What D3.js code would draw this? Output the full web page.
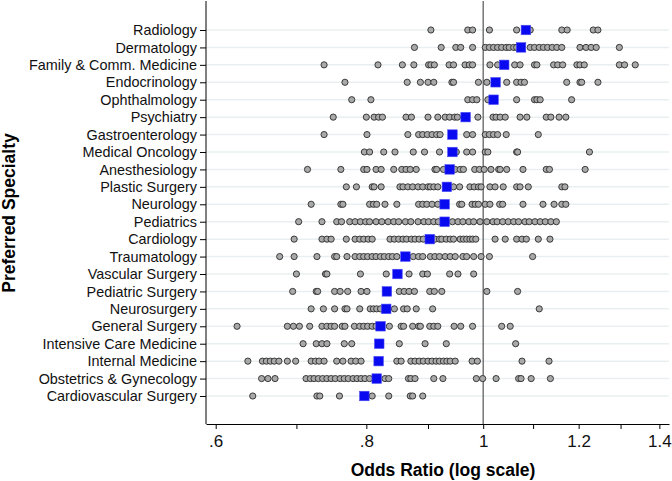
<!DOCTYPE html>
<html>
<head>
<meta charset="utf-8">
<script src="https://cdn.jsdelivr.net/npm/d3@7"></script>
<style>
  body { margin: 0; background: #fff; }
  svg { display: block; font-family: "Liberation Sans", Arial, sans-serif; }
  .axis path, .axis line { stroke: #000; }
</style>
</head>
<body>
<script>
(function () {

// specialties, top to bottom
var specialties = ["Radiology", "Dermatology", "Family & Comm. Medicine", "Endocrinology",
  "Ophthalmology", "Psychiatry", "Gastroenterology", "Medical Oncology", "Anesthesiology",
  "Plastic Surgery", "Neurology", "Pediatrics", "Cardiology", "Traumatology",
  "Vascular Surgery", "Pediatric Surgery", "Neurosurgery", "General Surgery",
  "Intensive Care Medicine", "Internal Medicine", "Obstetrics & Gynecology",
  "Cardiovascular Surgery"];

// mean odds ratio per specialty (blue squares)
var means = [1.085, 1.075, 1.041, 1.024, 1.020, 0.967, 0.943, 0.943, 0.938, 0.933, 0.929,
  0.929, 0.903, 0.862, 0.849, 0.832, 0.831, 0.822, 0.820, 0.819, 0.816, 0.797];

// individual odds ratios (grey circles)
var radiology = [0.905, 0.971, 0.980, 1.012, 1.066, 1.094, 1.162, 1.174, 1.234, 1.245];
var dermatology = [0.877, 0.923, 0.949, 0.958, 0.980, 1.004, 1.012, 1.020, 1.028, 1.036, 1.045,
  1.051, 1.060, 1.066, 1.094, 1.103, 1.113, 1.122, 1.131, 1.141, 1.151, 1.162, 1.203, 1.217,
  1.229, 1.241, 1.297];
var familyMed = [0.738, 0.818, 0.857, 0.876, 0.901, 0.905, 0.911, 0.937, 0.945, 0.966, 0.974,
  0.980, 1.013, 1.028, 1.062, 1.073, 1.103, 1.108, 1.144, 1.153, 1.164, 1.196, 1.203, 1.213,
  1.297, 1.310, 1.337];
var endocrinology = [0.768, 0.865, 0.887, 0.900, 0.910, 0.942, 0.945, 0.991, 1.007, 1.046,
  1.066, 1.075, 1.082, 1.173, 1.203, 1.207, 1.245];
var ophthalmology = [0.778, 0.807, 0.971, 0.980, 0.988, 1.009, 1.066, 1.103, 1.108, 1.115, 1.184];
var psychiatry = [0.751, 0.800, 0.812, 0.819, 0.825, 0.863, 0.872, 0.900, 0.917, 0.930, 0.938,
  0.947, 0.952, 0.990, 1.019, 1.025, 1.033, 1.043, 1.073, 1.087, 1.128, 1.138, 1.156, 1.171];
var gastro = [0.738, 0.801, 0.866, 0.884, 0.891, 0.899, 0.907, 0.915, 0.921, 0.969, 0.980,
  1.004, 1.012, 1.020, 1.028, 1.045, 1.111];
var oncology = [0.797, 0.805, 0.827, 0.845, 0.875, 0.894, 0.920, 0.950, 0.969, 0.980, 1.004,
  1.009, 1.066, 1.068, 1.225];
var anesthesiology = [0.715, 0.762, 0.796, 0.801, 0.815, 0.823, 0.843, 0.856, 0.863, 0.870,
  0.880, 0.912, 0.915, 0.927, 0.948, 0.957, 0.963, 0.984, 0.993, 1.002, 1.015, 1.030, 1.033,
  1.046, 1.079, 1.128, 1.135, 1.215];
var plastic = [0.770, 0.785, 0.809, 0.812, 0.823, 0.853, 0.858, 0.866, 0.874, 0.883, 0.891,
  0.900, 0.904, 0.910, 0.917, 0.945, 0.956, 0.975, 0.983, 0.991, 0.996, 1.013, 1.023, 1.039,
  1.066, 1.073, 1.090, 1.162, 1.169];
var neurology = [0.720, 0.762, 0.765, 0.805, 0.811, 0.816, 0.829, 0.848, 0.884, 0.891, 0.898,
  0.907, 0.917, 0.956, 0.960, 0.979, 0.985, 0.991, 1.004, 1.013, 1.032, 1.038, 1.079, 1.121,
  1.145, 1.162, 1.171];
var pediatrics = [0.703, 0.735, 0.756, 0.763, 0.775, 0.783, 0.791, 0.799, 0.805, 0.815, 0.824,
  0.834, 0.843, 0.851, 0.862, 0.871, 0.883, 0.893, 0.901, 0.910, 0.918, 0.928, 0.943, 0.953,
  0.962, 0.973, 0.982, 0.994, 1.007, 1.019, 1.027, 1.038, 1.049, 1.060, 1.070, 1.083, 1.092,
  1.104, 1.115, 1.126, 1.138, 1.150];
var cardiology = [0.697, 0.735, 0.742, 0.748, 0.770, 0.783, 0.790, 0.796, 0.803, 0.809, 0.837,
  0.844, 0.851, 0.858, 0.864, 0.872, 0.878, 0.885, 0.892, 0.912, 0.920, 0.924, 0.932, 0.939,
  0.945, 0.957, 0.963, 0.969, 0.975, 0.980, 0.986, 1.023, 1.043, 1.066, 1.077, 1.086, 1.111,
  1.136];
var traumatology = [0.678, 0.697, 0.728, 0.753, 0.756, 0.771, 0.783, 0.790, 0.796, 0.802,
  0.809, 0.815, 0.822, 0.828, 0.835, 0.841, 0.848, 0.875, 0.884, 0.891, 0.904, 0.912, 0.920,
  0.930, 0.939, 0.948, 0.962, 0.969, 0.982, 0.996, 1.012, 1.099];
var vascular = [0.700, 0.740, 0.742, 0.791, 0.831, 0.868, 0.891, 0.899, 0.938, 0.953, 0.982];
var pedSurgery = [0.695, 0.727, 0.729, 0.753, 0.761, 0.772, 0.792, 0.801, 0.852, 0.860, 0.868,
  0.877, 0.903, 0.911, 0.924, 1.007, 1.068];
var neurosurgery = [0.720, 0.737, 0.753, 0.768, 0.771, 0.790, 0.806, 0.811, 0.816, 0.822,
  0.844, 0.859, 0.865, 0.880, 0.908, 1.113];
var genSurgery = [0.625, 0.688, 0.696, 0.704, 0.718, 0.735, 0.742, 0.748, 0.753, 0.764, 0.768,
  0.782, 0.790, 0.796, 0.802, 0.809, 0.815, 0.836, 0.855, 0.859, 0.874, 0.884, 0.887, 0.903,
  0.910, 0.917, 0.946, 0.958, 0.980, 1.036, 1.053];
var icu = [0.709, 0.727, 0.735, 0.742, 0.767, 0.778, 0.852, 0.895, 0.932, 1.064];
var internal = [0.638, 0.656, 0.661, 0.666, 0.671, 0.677, 0.688, 0.699, 0.720, 0.726, 0.731,
  0.738, 0.756, 0.765, 0.777, 0.784, 0.792, 0.848, 0.855, 0.871, 0.878, 0.885, 0.892, 0.900,
  0.907, 0.914, 0.920, 0.927, 0.933, 0.939, 0.948, 0.979, 0.989, 1.077, 1.134];
var obgyn = [0.655, 0.663, 0.672, 0.713, 0.719, 0.724, 0.730, 0.736, 0.742, 0.748, 0.754,
  0.761, 0.767, 0.773, 0.780, 0.786, 0.792, 0.798, 0.805, 0.829, 0.835, 0.867, 0.871, 0.878,
  0.910, 0.926, 0.987, 0.999, 1.025, 1.070, 1.075, 1.096, 1.137];
var cvSurgery = [0.644, 0.728, 0.732, 0.760, 0.809, 0.835, 0.870, 0.874, 0.891];

var pointSets = [radiology, dermatology, familyMed, endocrinology, ophthalmology, psychiatry,
  gastro, oncology, anesthesiology, plastic, neurology, pediatrics, cardiology, traumatology,
  vascular, pedSurgery, neurosurgery, genSurgery, icu, internal, obgyn, cvSurgery];

var xTicks = [0.6, 0.7, 0.8, 0.9, 1, 1.1, 1.2, 1.3, 1.4];
var xTickLabels = {0.6: ".6", 0.8: ".8", 1: "1", 1.2: "1.2", 1.4: "1.4"};

var width = 672,
    height = 481,
    left = 206,
    right = 669,
    top = 1,
    bottom = 424;

var x = d3.scaleLog()
    .domain([0.589, 1.426])
    .range([left, right]);

var y = d3.scalePoint()
    .domain(specialties)
    .range([30, 396]);

var svg = d3.select("body").append("svg")
    .attr("width", width)
    .attr("height", height);

// light horizontal grid lines
svg.append("g")
    .selectAll("line")
    .data(specialties)
    .enter().append("line")
    .attr("x1", left)
    .attr("x2", right)
    .attr("y1", function (d) { return y(d); })
    .attr("y2", function (d) { return y(d); })
    .attr("stroke", "#e9eff1")
    .attr("stroke-width", 1.5);

// reference line at OR = 1
svg.append("line")
    .attr("x1", x(1)).attr("x2", x(1))
    .attr("y1", top).attr("y2", bottom)
    .attr("stroke", "#555")
    .attr("stroke-width", 1.2);

// individual points
var points = [];
pointSets.forEach(function (set, i) {
    set.forEach(function (v) { points.push({ s: specialties[i], v: v }); });
});

svg.append("g")
    .selectAll("circle")
    .data(points)
    .enter().append("circle")
    .attr("cx", function (d) { return x(d.v); })
    .attr("cy", function (d) { return y(d.s); })
    .attr("r", 3.1)
    .attr("fill", "#a9a9a9")
    .attr("stroke", "#2b2b2b")
    .attr("stroke-width", 0.9);

// means
var sq = 9.5;
svg.append("g")
    .selectAll("rect")
    .data(specialties)
    .enter().append("rect")
    .attr("x", function (d, i) { return x(means[i]) - sq / 2; })
    .attr("y", function (d) { return y(d) - sq / 2; })
    .attr("width", sq)
    .attr("height", sq)
    .attr("fill", "#0a0af0")
    .attr("stroke", "#4a4af5")
    .attr("stroke-width", 0.6);

// axes
var yAxis = d3.axisLeft(y).tickSize(6).tickPadding(3).tickSizeOuter(0);
var gy = svg.append("g")
    .attr("class", "axis")
    .attr("transform", "translate(" + left + ",0)")
    .call(yAxis);
gy.select(".domain").attr("d", "M0," + top + "V" + bottom);
gy.selectAll("text")
    .attr("font-size", "14.4px")
    .attr("fill", "#111")
    .attr("font-family", "Liberation Sans, Arial, sans-serif");

var xAxis = d3.axisBottom(x)
    .tickValues(xTicks)
    .tickSize(5)
    .tickPadding(6)
    .tickSizeOuter(0)
    .tickFormat(function (d) { return xTickLabels[d] || ""; });
var gx = svg.append("g")
    .attr("class", "axis")
    .attr("transform", "translate(0," + bottom + ")")
    .call(xAxis);
gx.selectAll("text")
    .attr("font-size", "17px")
    .attr("fill", "#111")
    .attr("font-family", "Liberation Sans, Arial, sans-serif");

// titles
svg.append("text")
    .attr("x", 443)
    .attr("y", 476)
    .attr("text-anchor", "middle")
    .attr("font-size", "17.5px")
    .attr("font-weight", "bold")
    .text("Odds Ratio (log scale)");

svg.append("text")
    .attr("transform", "translate(15,213) rotate(-90)")
    .attr("text-anchor", "middle")
    .attr("font-size", "17.5px")
    .attr("font-weight", "bold")
    .text("Preferred Specialty");

})();
</script>
</body>
</html>
